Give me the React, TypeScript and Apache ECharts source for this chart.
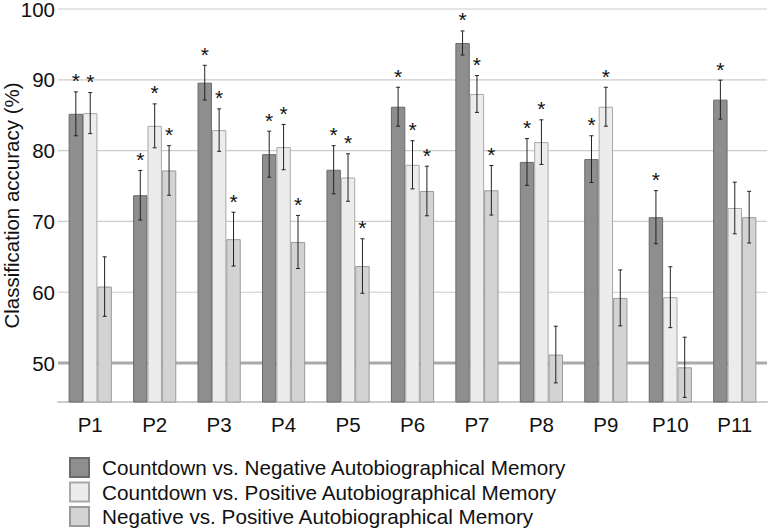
import React, { useEffect, useRef } from "react";
import * as echarts from "echarts";

const categories = ["P1", "P2", "P3", "P4", "P5", "P6", "P7", "P8", "P9", "P10", "P11"];
const seriesNames = [
  "Countdown vs. Negative Autobiographical Memory",
  "Countdown vs. Positive Autobiographical Memory",
  "Negative vs. Positive Autobiographical Memory",
];
const negCount = [85.2, 73.7, 89.6, 79.5, 77.3, 86.2, 95.2, 78.4, 78.8, 70.6, 87.2];
const negCountErr = [3.1, 3.5, 2.45, 3.25, 3.4, 2.75, 1.7, 3.3, 3.3, 3.75, 2.75];
const negCountSig = [1, 1, 1, 1, 1, 1, 1, 1, 1, 1, 1];
const posCount = [85.3, 83.5, 82.9, 80.5, 76.2, 78.0, 88.0, 81.2, 86.2, 59.3, 71.9];
const posCountErr = [2.9, 3.1, 3.0, 3.2, 3.35, 3.4, 2.6, 3.15, 2.75, 4.3, 3.65];
const posCountSig = [1, 1, 1, 1, 1, 1, 1, 1, 1, 0, 0];
const negPos = [60.8, 77.2, 67.5, 67.1, 63.7, 74.3, 74.4, 51.2, 59.2, 49.4, 70.6];
const negPosErr = [4.2, 3.5, 3.8, 3.75, 3.85, 3.5, 3.5, 4.0, 3.95, 4.25, 3.65];
const negPosSig = [0, 1, 1, 1, 1, 1, 1, 0, 0, 0, 0];
const yTicks = [50, 60, 70, 80, 90, 100];
const chanceLevel = 50;

const FONT = "'Liberation Sans', Arial, Helvetica, sans-serif";
const fills = ["#8e8e8e", "#ececec", "#d3d3d3"];
const borders = ["#6a6a6a", "#a8a8a8", "#9a9a9a"];
const CAT_GAP = 0.33;

export default function App() {
  const ref = useRef<HTMLDivElement>(null);
  useEffect(() => {
    if (!ref.current) return;
    document.body.style.margin = "0";
    const chart = echarts.init(ref.current, null, { renderer: "svg" });
    const values = [negCount, posCount, negPos];
    const errs = [negCountErr, posCountErr, negPosErr];
    const sigs = [negCountSig, posCountSig, negPosSig];

    const barSeries = values.map((vals, i) => ({
      name: seriesNames[i],
      type: "bar",
      data: vals,
      barGap: "0%",
      barCategoryGap: "33%",
      z: 2,
      itemStyle: { color: fills[i], borderColor: borders[i], borderWidth: 1 },
    }));

    const errSeries = values.map((vals, i) => ({
      type: "custom",
      name: "err" + i,
      z: 4,
      data: vals.map((v, k) => [k, v, errs[i][k], sigs[i][k]]),
      encode: { x: 0, y: 1 },
      renderItem: (params: any, api: any) => {
        const k = api.value(0);
        const v = api.value(1);
        const e = api.value(2);
        const s = api.value(3);
        const band = api.size([1, 0])[0];
        const bw = (band * (1 - CAT_GAP)) / 3;
        const cx = api.coord([k, v])[0] + (i - 1) * bw;
        const yTop = api.coord([k, v + e])[1];
        const yBot = api.coord([k, v - e])[1];
        const cap = 2;
        const stroke = { stroke: "#222", lineWidth: 1 };
        const children: any[] = [
          { type: "line", shape: { x1: cx, y1: yTop, x2: cx, y2: yBot }, style: stroke },
          { type: "line", shape: { x1: cx - cap, y1: yTop, x2: cx + cap, y2: yTop }, style: stroke },
          { type: "line", shape: { x1: cx - cap, y1: yBot, x2: cx + cap, y2: yBot }, style: stroke },
        ];
        if (s) {
          children.push({
            type: "text",
            style: {
              text: "*",
              x: cx,
              y: yTop - 11,
              align: "center",
              verticalAlign: "middle",
              fontSize: 21,
              fontFamily: FONT,
              fill: "#111",
            },
          });
        }
        return { type: "group", children };
      },
    }));

    const gridSeries = {
      type: "custom",
      name: "gridlines",
      z: 1,
      data: yTicks.map((v) => [0, v]),
      encode: { x: 0, y: 1 },
      renderItem: (params: any, api: any) => {
        const v = api.value(1);
        const y = api.coord([0, v])[1];
        const cs = params.coordSys;
        const isChance = v === chanceLevel;
        return {
          type: "line",
          shape: { x1: cs.x, y1: y, x2: cs.x + cs.width, y2: y },
          style: { stroke: isChance ? "#aaaaaa" : "#cccccc", lineWidth: isChance ? 3 : 1.2 },
        };
      },
    };

    chart.setOption({
      animation: false,
      textStyle: { fontFamily: FONT },
      grid: {
        left: 58,
        right: 3,
        top: 9,
        bottom: 127,
        containLabel: false,
        outerBoundsMode: "none",
      },
      legend: {
        data: seriesNames,
        orient: "vertical",
        left: 69,
        top: 457,
        padding: 0,
        itemWidth: 19,
        itemHeight: 19,
        itemGap: 3.5,
        icon: "rect",
        textStyle: { fontSize: 20.7, color: "#111", fontFamily: FONT, padding: [0, 0, 0, 8] },
      },
      xAxis: {
        type: "category",
        data: categories,
        axisTick: { show: false },
        axisLine: { lineStyle: { color: "#cccccc", width: 2 } },
        axisLabel: { fontSize: 20.5, color: "#111", margin: 12, fontFamily: FONT },
      },
      yAxis: {
        type: "value",
        min: 44.5,
        max: 100,
        name: "Classification accuracy (%)",
        nameLocation: "middle",
        nameGap: 37,
        nameMoveOverlap: false,
        nameTextStyle: { fontSize: 20.5, lineHeight: 20, color: "#111", fontFamily: FONT },
        axisLine: { show: false },
        axisTick: { show: false },
        splitLine: { show: false },
        axisLabel: {
          customValues: yTicks,
          fontSize: 20.5,
          lineHeight: 18,
          color: "#111",
          margin: 3,
          fontFamily: FONT,
        },
      },
      series: [gridSeries, ...barSeries, ...errSeries],
    });
    return () => chart.dispose();
  }, []);
  return <div ref={ref} style={{ width: 770, height: 529 }} />;
}
